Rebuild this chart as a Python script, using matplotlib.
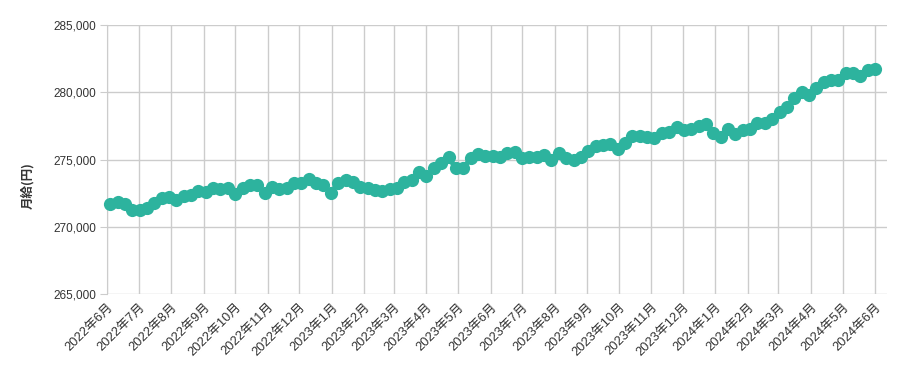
#!/usr/bin/env python3
"""Weekly monthly-salary trend, 2022-06 .. 2024-06 (line + markers)."""

import matplotlib as mpl
mpl.use("Agg")
import matplotlib.pyplot as plt
import matplotlib.dates as mdates
import numpy as np
import pandas as pd
from matplotlib.ticker import FuncFormatter

mpl.rcParams["font.family"] = ["Liberation Sans", "Noto Sans CJK JP", "DejaVu Sans"]

# ---- data (weekly samples) ----
START_DATE = "2022-06-04"
SALARY = [
    271670, 271860, 271670, 271245, 271245, 271370, 271790, 272115, 272235, 272000,
    272280, 272360, 272660, 272610, 272860, 272780, 272860, 272410, 272900, 273100,
    273100, 272530, 272930, 272780, 272860, 273280, 273230, 273530, 273280, 273100,
    272530, 273230, 273480, 273350, 272980, 272860, 272730, 272680, 272780, 272860,
    273350, 273480, 274100, 273770, 274340, 274720, 275160, 274340, 274340, 275090,
    275390, 275260, 275260, 275210, 275510, 275530, 275090, 275210, 275210, 275330,
    274960, 275460, 275090, 274960, 275160, 275660, 276030, 276100, 276140, 275760,
    276250, 276720, 276750, 276650, 276580, 276950, 277070, 277390, 277190, 277240,
    277490, 277640, 276950, 276700, 277240, 276900, 277190, 277240, 277740, 277740,
    277990, 278560, 278930, 279550, 280050, 279800, 280290, 280740, 280910, 280910,
    281410, 281410, 281210, 281650, 281730,
]
Y_TICKS = [265000, 270000, 275000, 280000, 285000]
Y_LABEL = "月給(円)"

LINE_COLOR = "#2db39e"
GRID_COLOR = "#cccccc"
TEXT_COLOR = "#333333"

dates = pd.date_range(START_DATE, periods=len(SALARY), freq="7D")

fig = plt.figure(figsize=(9.05, 3.71), dpi=100)
ax = fig.add_axes([107 / 905, 1 - 294 / 371, (886.7 - 107) / 905, (294 - 25) / 371])

ax.plot(dates, SALARY, color=LINE_COLOR, linewidth=3.5, marker="o",
        markersize=9.5, markeredgewidth=0, zorder=3, clip_on=False)

ax.set_ylim(Y_TICKS[0], Y_TICKS[-1])
ax.set_yticks(Y_TICKS)
ax.yaxis.set_major_formatter(FuncFormatter(lambda v, _: f"{int(v):,}"))
ax.set_xlim(pd.Timestamp("2022-06-01"), pd.Timestamp("2024-06-12"))
ax.xaxis.set_major_locator(mdates.MonthLocator(bymonthday=1))
ax.xaxis.set_major_formatter(
    FuncFormatter(lambda v, _: "{0.year}年{0.month}月".format(mdates.num2date(v))))

ax.grid(True, color=GRID_COLOR, linewidth=1.0, zorder=0)
for side in ("top", "right", "bottom"):
    ax.spines[side].set_visible(False)
ax.spines["left"].set_color(GRID_COLOR)
ax.tick_params(axis="y", length=5, color=GRID_COLOR, labelsize=8.5,
               labelcolor=TEXT_COLOR, pad=3)
ax.tick_params(axis="x", length=0, labelsize=9.3, labelcolor=TEXT_COLOR, pad=5)
for lbl in ax.get_xticklabels():
    lbl.set_rotation(45)
    lbl.set_ha("right")
    lbl.set_rotation_mode("anchor")

# y label sits at the figure's vertical centre, not the axes'
fig.text(27 / 905, 0.5, Y_LABEL, rotation=90, ha="center", va="center",
         fontsize=9, fontweight="bold", color=TEXT_COLOR,
         family=["Noto Sans CJK JP"])

fig.savefig("out.png", dpi=100)
